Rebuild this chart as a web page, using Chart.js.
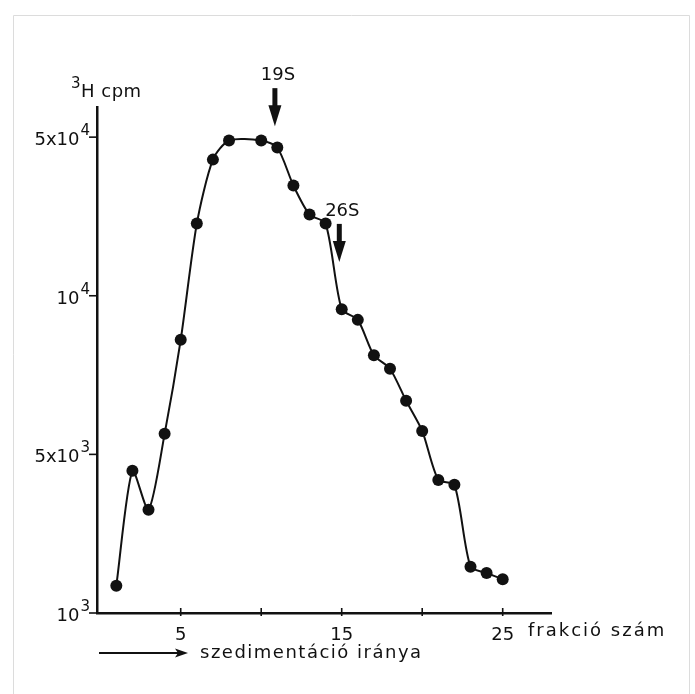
<!DOCTYPE html>
<html>
<head>
<meta charset="utf-8">
<script src="https://cdn.jsdelivr.net/npm/chart.js@4/dist/chart.umd.min.js"></script>
<style>
  html, body { margin: 0; padding: 0; background: #fff; }
  #wrap { width: 695px; height: 694px; }
</style>
</head>
<body>
<div id="wrap"><canvas id="gradient"></canvas></div>
<script>
// fraction numbers (fraction 9 was not counted)
const fractions = [1, 2, 3, 4, 5, 6, 7, 8, 10, 11, 12, 13, 14, 15, 16, 17, 18, 19, 20, 21, 22, 23, 24, 25];
// 3H counts per minute
const cpm = [1320, 4230, 2850, 5470, 8250, 20800, 39800, 48300, 48300, 45000, 30600, 22800,
             20800, 9430, 9000, 7710, 7270, 6320, 5540, 3860, 3670, 1600, 1500, 1410];

// y axis: labelled steps, drawn evenly spaced
const yTickValues = [1000, 5000, 10000, 50000];
const yTickBases = ["10", "5x10", "10", "5x10"];
const yTickPowers = ["3", "3", "4", "4"];

const xTickValues = [5, 10, 15, 20, 25];
const xTickLabels = ["5", "", "15", "", "25"];

// sedimentation markers
const markerLabels = ["19S", "26S"];
const markerFractions = [10.85, 14.85];
const markerTips = [55900, 14100];

const FONT = '"DejaVu Sans", sans-serif';

// every labelled step is one axis unit, log scaled inside the step
function toAxis(v) {
    let i = 0;
    while (i < yTickValues.length - 2 && v > yTickValues[i + 1]) i++;
    const lo = yTickValues[i], hi = yTickValues[i + 1];
    return i + Math.log(v / lo) / Math.log(hi / lo);
}

const points = fractions.map((f, i) => ({ x: f, y: toAxis(cpm[i]) }));

function drawPower(ctx, base, power, right, y, size, powSize, rise) {
    ctx.font = size + "px " + FONT;
    const wb = ctx.measureText(base).width;
    ctx.font = powSize + "px " + FONT;
    const wp = ctx.measureText(power).width;
    const x0 = right - wb - wp - 1;
    ctx.font = size + "px " + FONT;
    ctx.fillText(base, x0, y);
    ctx.font = powSize + "px " + FONT;
    ctx.fillText(power, x0 + wb + 1, y - rise);
}

function drawArrowDown(ctx, x, tipY, length, headLen, headHalf, shaft) {
    ctx.beginPath();
    ctx.rect(x - shaft / 2, tipY - length, shaft, length - headLen + 1);
    ctx.fill();
    ctx.beginPath();
    ctx.moveTo(x - headHalf, tipY - headLen);
    ctx.lineTo(x + headHalf, tipY - headLen);
    ctx.lineTo(x, tipY);
    ctx.closePath();
    ctx.fill();
}

const labelsPlugin = {
    id: "labelsPlugin",
    beforeDraw(chart) {
        const ctx = chart.ctx;
        ctx.save();
        ctx.fillStyle = "#fff";
        ctx.fillRect(0, 0, chart.width, chart.height);
        // faint edge of the print
        ctx.strokeStyle = "#dcdcdc";
        ctx.lineWidth = 1;
        ctx.beginPath();
        ctx.moveTo(13.5, 694);
        ctx.lineTo(13.5, 15.5);
        ctx.lineTo(689.5, 15.5);
        ctx.lineTo(689.5, 694);
        ctx.stroke();
        ctx.restore();
    },
    afterDraw(chart) {
        const ctx = chart.ctx;
        const xs = chart.scales.x, ys = chart.scales.y;
        const area = chart.chartArea;
        ctx.save();
        ctx.fillStyle = "#111";
        ctx.strokeStyle = "#111";
        ctx.textBaseline = "alphabetic";

        // y tick marks and labels
        ctx.lineWidth = 1.6;
        yTickValues.forEach((v, i) => {
            const y = ys.getPixelForValue(toAxis(v));
            ctx.beginPath();
            ctx.moveTo(area.left - 8, y);
            ctx.lineTo(area.left, y);
            ctx.stroke();
            ctx.textAlign = "left";
            drawPower(ctx, yTickBases[i], yTickPowers[i], 90, y + 8, 18, 15, 10);
        });

        // x tick marks and labels
        xTickValues.forEach((v, i) => {
            const x = xs.getPixelForValue(v);
            ctx.beginPath();
            ctx.moveTo(x, area.bottom - 5);
            ctx.lineTo(x, area.bottom + 3);
            ctx.stroke();
            if (xTickLabels[i]) {
                ctx.font = "18px " + FONT;
                ctx.textAlign = "center";
                ctx.fillText(xTickLabels[i], x, area.bottom + 27);
            }
        });

        // axis titles
        ctx.textAlign = "left";
        ctx.font = "15px " + FONT;
        ctx.fillText("3", 71, 88);
        ctx.font = "18px " + FONT;
        ctx.letterSpacing = "0.5px";
        ctx.fillText("H cpm", 81, 97);
        ctx.letterSpacing = "2px";
        ctx.fillText("frakció szám", 528, 636);
        ctx.letterSpacing = "1.5px";
        ctx.fillText("szedimentáció iránya", 200, 658);
        ctx.letterSpacing = "0px";

        // direction arrow under the axis
        ctx.lineWidth = 1.8;
        ctx.beginPath();
        ctx.moveTo(99, 653);
        ctx.lineTo(178, 653);
        ctx.stroke();
        ctx.beginPath();
        ctx.moveTo(188, 653);
        ctx.lineTo(175, 648.5);
        ctx.lineTo(178, 653);
        ctx.lineTo(175, 657.5);
        ctx.closePath();
        ctx.fill();

        // 19S / 26S markers
        markerLabels.forEach((label, i) => {
            const x = xs.getPixelForValue(markerFractions[i]);
            const tip = ys.getPixelForValue(toAxis(markerTips[i]));
            drawArrowDown(ctx, x, tip, 38, 21, 6.5, 5);
            ctx.font = "18px " + FONT;
            ctx.textAlign = "center";
            ctx.fillText(label, x + 3, tip - 46);
        });
        ctx.restore();
    }
};

new Chart(document.getElementById("gradient"), {
    type: "line",
    data: {
        datasets: [{
            data: points,
            borderColor: "#111",
            borderWidth: 2,
            backgroundColor: "#111",
            pointBackgroundColor: "#111",
            pointBorderWidth: 0,
            pointRadius: 6,
            tension: 0.25,
            fill: false
        }]
    },
    options: {
        responsive: true,
        maintainAspectRatio: false,
        animation: false,
        events: [],
        layout: { padding: { left: 89, right: 144, top: 107, bottom: 76 } },
        plugins: {
            legend: { display: false },
            tooltip: { enabled: false }
        },
        scales: {
            x: {
                type: "linear",
                min: -0.2,
                max: 28,
                grid: { display: false },
                ticks: { display: false },
                border: { display: true, color: "#111", width: 2.5 },
                afterFit: scale => { scale.height = 5; }
            },
            y: {
                type: "linear",
                min: 0,
                max: 3.19,
                grid: { display: false },
                ticks: { display: false },
                border: { display: true, color: "#111", width: 2.5 },
                afterFit: scale => { scale.width = 8; }
            }
        }
    },
    plugins: [labelsPlugin]
});
</script>
</body>
</html>
